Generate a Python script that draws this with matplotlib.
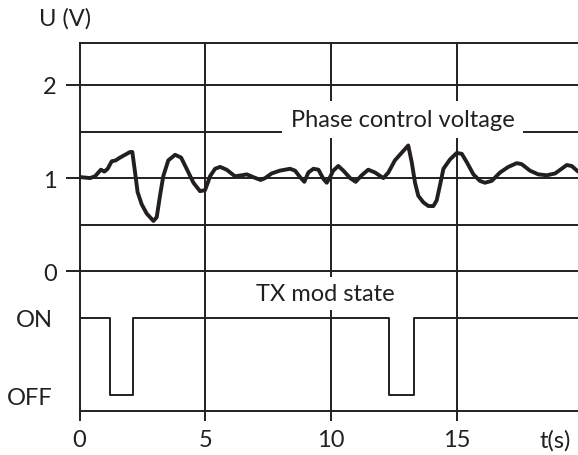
import matplotlib.pyplot as plt

# --- data
phase_t = [0.05, 0.42, 0.62, 0.85, 0.99, 1.12, 1.28, 1.44, 1.61, 1.81, 2.01, 2.10,
           2.21, 2.31, 2.47, 2.67, 2.94, 3.07, 3.20, 3.33, 3.53, 3.80, 4.04, 4.26,
           4.53, 4.79, 4.99, 5.10, 5.19, 5.39, 5.59, 5.85, 6.18, 6.45, 6.65, 6.91,
           7.20, 7.38, 7.64, 7.97, 8.37, 8.57, 8.77, 8.94, 9.10, 9.30, 9.50, 9.70,
           9.83, 9.96, 10.09, 10.29, 10.49, 10.76, 10.98, 11.22, 11.48, 11.75,
           12.08, 12.28, 12.54, 12.87, 13.07, 13.21, 13.34, 13.47, 13.67, 13.87,
           14.07, 14.20, 14.33, 14.47, 14.73, 15.00, 15.20, 15.40, 15.66, 15.92,
           16.12, 16.39, 16.72, 17.05, 17.38, 17.58, 17.91, 18.24, 18.58, 18.91,
           19.17, 19.37, 19.57, 19.82]
phase_v = [1.01, 1.00, 1.02, 1.09, 1.07, 1.10, 1.18, 1.19, 1.22, 1.25, 1.28, 1.28,
           1.06, 0.85, 0.72, 0.62, 0.54, 0.58, 0.81, 1.02, 1.19, 1.25, 1.22, 1.10,
           0.95, 0.86, 0.87, 0.95, 1.02, 1.10, 1.12, 1.09, 1.02, 1.03, 1.04, 1.01,
           0.98, 1.00, 1.05, 1.08, 1.10, 1.08, 1.01, 0.96, 1.06, 1.10, 1.09, 0.99,
           0.95, 1.01, 1.08, 1.13, 1.08, 1.00, 0.96, 1.03, 1.09, 1.06,
           1.00, 1.06, 1.19, 1.29, 1.35, 1.17, 0.95, 0.81, 0.74, 0.70,
           0.70, 0.76, 0.92, 1.10, 1.20, 1.27, 1.26, 1.17, 1.04, 0.97,
           0.95, 0.97, 1.06, 1.12, 1.16, 1.15, 1.08, 1.04, 1.03, 1.05,
           1.10, 1.14, 1.13, 1.07]

tx_t = [0, 1.21, 2.13, 12.3, 13.3, 19.82]
tx_state = ["ON", "OFF", "ON", "OFF", "ON", "ON"]
state_level = {"ON": -0.5, "OFF": -1.33}

volt_ticks = [0, 1, 2]
time_ticks = [0, 5, 10, 15]

ink = "#231f20"
fs = 17
lw_grid = 1.4
plt.rcParams['font.family'] = ['Lato', 'DejaVu Sans']

fig = plt.figure(figsize=(5.78, 4.56), dpi=100)
ax = fig.add_axes([79.5 / 578, 1 - 412 / 456, 1 - 79.5 / 578, 368 / 456])
ax.set_xlim(0, 19.82)
ax.set_ylim(-1.5, 2.45)

# grid
for y in [2, 1.5, 1, 0.5, 0]:
    ax.axhline(y, color=ink, lw=lw_grid, zorder=1)
for x in time_ticks[1:]:
    ax.axvline(x, color=ink, lw=lw_grid, zorder=1)

for side in ["left", "top", "bottom"]:
    ax.spines[side].set_color(ink)
    ax.spines[side].set_linewidth(lw_grid)
ax.spines["right"].set_visible(False)

# signals
ax.plot(phase_t, phase_v, color=ink, lw=2.8, solid_joinstyle="round",
        solid_capstyle="round", zorder=3)
ax.step(tx_t, [state_level[s] for s in tx_state], where="post",
        color=ink, lw=lw_grid, zorder=3)

# labels inside the plot
ax.text(12.84, 1.63, "Phase control voltage", ha="center", va="center",
        fontsize=fs, color=ink, zorder=2,
        bbox=dict(facecolor="white", edgecolor="none", pad=6))
ax.text(9.77, -0.24, "TX mod state", ha="center", va="center",
        fontsize=fs, color=ink, zorder=2,
        bbox=dict(facecolor="white", edgecolor="none", pad=4))

# ticks
ax.set_yticks(volt_ticks, [str(v) for v in volt_ticks])
ax.set_yticks([state_level["ON"], state_level["OFF"]], ["ON", "OFF"], minor=True)
ax.set_xticks(time_ticks, [str(v) for v in time_ticks])
ax.set_xticks([18.9], ["t(s)"], minor=True)
ax.tick_params(axis="y", which="major", length=10, width=lw_grid, pad=6.5,
               labelsize=fs, colors=ink)
ax.tick_params(axis="y", which="minor", length=0, pad=19.5, labelsize=fs,
               colors=ink)
ax.tick_params(axis="x", which="major", length=7, width=lw_grid, pad=6,
               labelsize=fs, colors=ink)
ax.tick_params(axis="x", which="minor", length=0, pad=13, labelsize=fs,
               colors=ink)

fig.text(65 / 578, 1 - 19 / 456, "U (V)", ha="center", va="center",
         fontsize=fs, color=ink)

fig.savefig("out.png", dpi=100, facecolor="white")
